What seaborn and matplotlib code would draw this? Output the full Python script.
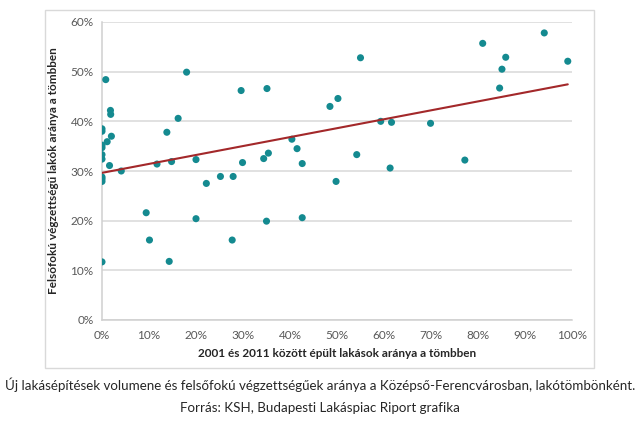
import matplotlib
matplotlib.use("Agg")
import matplotlib.pyplot as plt
import seaborn as sns
import numpy as np
import pandas as pd
from matplotlib.patches import Rectangle
from matplotlib.ticker import PercentFormatter

# share of flats built 2001-2011 in block (%)
new_flats = [0.8, 18.0, 29.6, 35.1, 1.8, 1.85, 16.2, 0, 0, 13.8, 2.0, 1.1, 0, 0, 0, 0,
             1.6, 11.7, 14.8, 20.0, 29.9, 34.4, 35.4, 4.1, 0, 0, 0, 22.2, 25.2, 27.9,
             9.4, 20.0, 35.0, 10.1, 27.7, 0, 14.3, 55.0, 48.5, 50.2, 40.4, 41.5, 42.6,
             54.2, 59.3, 61.6, 69.9, 61.3, 49.8, 42.6, 81.0, 94.1, 85.9, 85.1, 99.1,
             84.6, 77.2]
# share of residents with higher education (%)
higher_edu = [48.4, 49.9, 46.2, 46.6, 42.2, 41.4, 40.6, 38.5, 38.0, 37.8, 37.0, 35.9, 35.2,
              34.7, 33.3, 32.4, 31.1, 31.4, 31.9, 32.3, 31.7, 32.5, 33.6, 30.0, 28.8, 28.4,
              27.9, 27.5, 28.9, 28.9, 21.6, 20.4, 19.9, 16.1, 16.1, 11.7, 11.8, 52.8, 43.0,
              44.6, 36.4, 34.5, 31.5, 33.3, 40.0, 39.8, 39.6, 30.6, 27.9, 20.6, 55.7, 57.8,
              52.9, 50.5, 52.1, 46.7, 32.2]

x_ticks = [0, 10, 20, 30, 40, 50, 60, 70, 80, 90, 100]
y_ticks = [0, 10, 20, 30, 40, 50, 60]

x_label = "2001 és 2011 között épült lakások aránya a tömbben"
y_label = "Felsőfokú végzettségű lakók aránya a tömbben"
caption1 = "Új lakásépítések volumene és felsőfokú végzettségűek aránya a Középső-Ferencvárosban, lakótömbönként."
caption2 = "Forrás: KSH, Budapesti Lakáspiac Riport grafika"

df = pd.DataFrame({"x": new_flats, "y": higher_edu})

sns.set_theme(style="white")
plt.rcParams["font.family"] = ["Lato", "DejaVu Sans"]

fig = plt.figure(figsize=(6.4, 4.25), dpi=100)
fig.patch.set_facecolor("white")

# chart border
fig.patches.append(Rectangle((45 / 640, 1 - 368 / 425), (594 - 45) / 640, (368 - 10) / 425,
                             transform=fig.transFigure, fill=False,
                             edgecolor="#d9d9d9", linewidth=1.0, zorder=0))

ax = fig.add_axes([102 / 640, 1 - 320 / 425, (572 - 102) / 640, (320 - 22) / 425])

teal = "#148a90"
sns.scatterplot(data=df, x="x", y="y", ax=ax, color=teal, s=26, edgecolor="none", zorder=3)
sns.regplot(data=df, x="x", y="y", ax=ax, scatter=False, ci=None,
            line_kws={"color": "#a3282a", "linewidth": 1.5, "zorder": 4})

ax.set_xlim(0, 100)
ax.set_ylim(0, 60)
ax.set_xticks(x_ticks)
ax.set_yticks(y_ticks)
ax.xaxis.set_major_formatter(PercentFormatter(decimals=0))
ax.yaxis.set_major_formatter(PercentFormatter(decimals=0))
ax.grid(axis="y", color="#d9d9d9", linewidth=1.1)
ax.grid(axis="x", visible=False)
ax.set_axisbelow(True)
for side in ["top", "right"]:
    ax.spines[side].set_visible(False)
for side in ["left", "bottom"]:
    ax.spines[side].set_color("#d0d0d0")
    ax.spines[side].set_linewidth(1.1)
ax.tick_params(axis="both", colors="#d0d0d0", labelcolor="#595959", labelsize=8.5,
               length=4, width=1, direction="out")
ax.tick_params(axis="y", length=3, pad=3)
ax.tick_params(axis="x", pad=3)

ax.set_xlabel(x_label, fontsize=8.5, fontweight="bold", color="#262626", labelpad=5)
ax.set_ylabel(y_label, fontsize=8.5, fontweight="bold", color="#262626", labelpad=8)

t1 = fig.text(0.5, 1 - 385 / 425, caption1, ha="center", va="center", fontsize=10, color="#262626")
t2 = fig.text(0.5, 1 - 408 / 425, caption2, ha="center", va="center", fontsize=10, color="#262626")

# fit caption size so the long line spans about 630 px, like the reference
renderer = fig.canvas.get_renderer()
w1 = t1.get_window_extent(renderer).width
size = 10 * 630 / w1
t1.set_fontsize(size)
t2.set_fontsize(size)

fig.savefig("out.png", dpi=100, facecolor="white")
